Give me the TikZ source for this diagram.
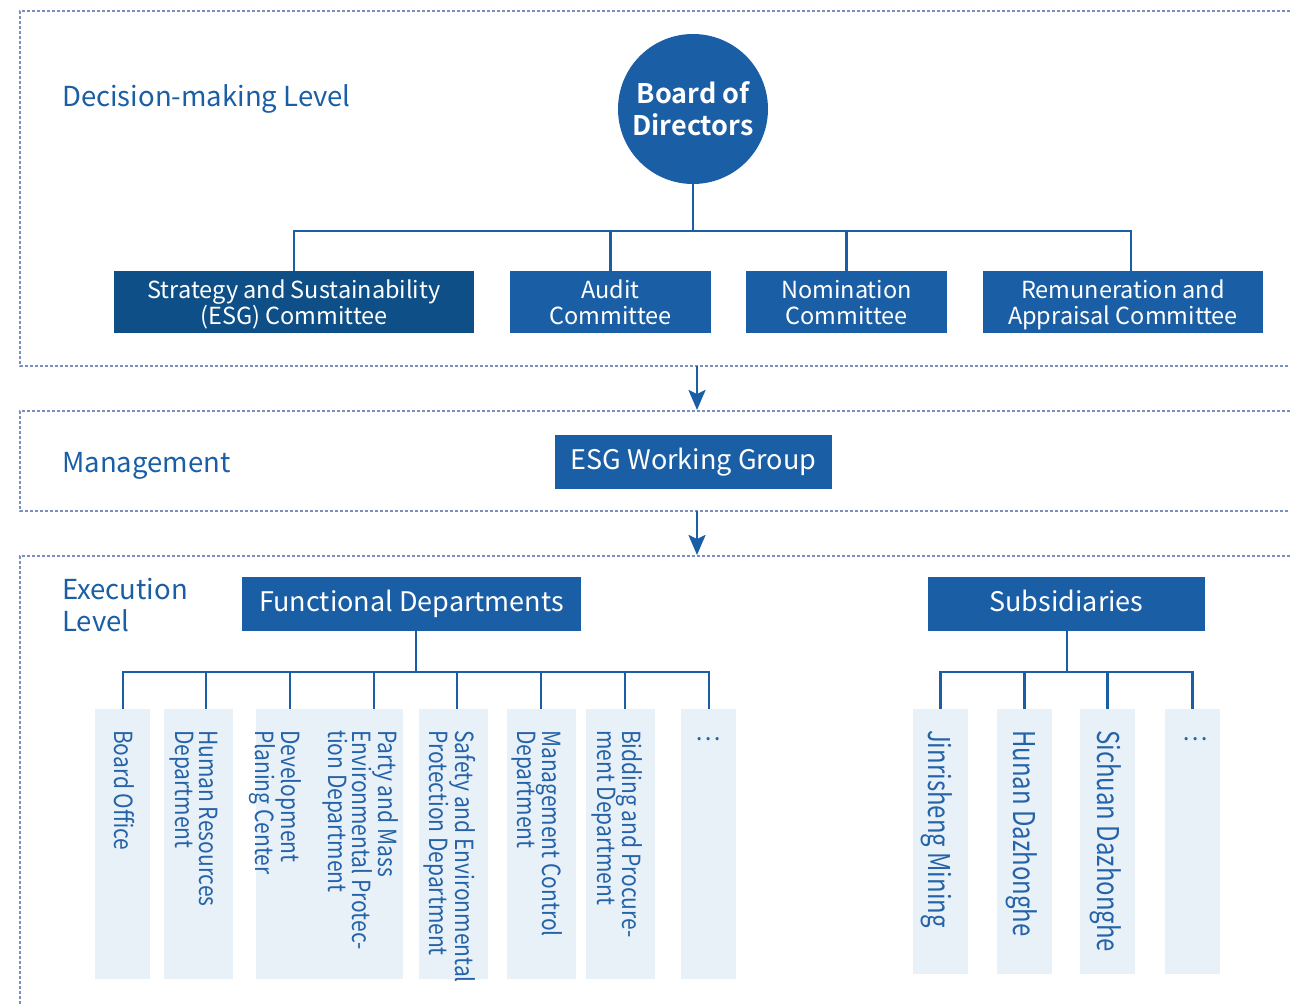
\documentclass[tikz,border=0pt]{standalone}
\usepackage{fontspec}
\setmainfont{Noto Sans CJK SC}[BoldFont={Noto Sans CJK SC Bold}]
\usetikzlibrary{arrows.meta}
\definecolor{cblue}{HTML}{1A5EA5}
\definecolor{cdark}{HTML}{0D4F86}
\definecolor{clight}{HTML}{E8F0F8}
\definecolor{cframe}{HTML}{7A8FBF}
\definecolor{ctext}{HTML}{2563A8}
\tikzset{
  frame/.style={draw=cframe, line width=1.4pt, dash pattern=on 3pt off 2pt},
  lvl/.style={text=cblue, font=\fontsize{27.5}{32}\selectfont, anchor=west, align=left, inner sep=0pt},
  cbox/.style={fill=cblue, text=white, font=\fontsize{23.5}{26}\selectfont, align=center, inner sep=0pt,
               minimum height=62pt, text height=46pt, text depth=2pt},
  hbox/.style={fill=cblue, text=white, font=\fontsize{27}{32}\selectfont, inner sep=0pt, minimum height=54pt,
               text height=20pt, text depth=6pt},
  lbox/.style={fill=clight, inner sep=0pt},
  vtext/.style={text=ctext, rotate=-90, xscale=0.84, anchor=north west, align=left, inner sep=0pt, font=\fontsize{25}{24}\selectfont},
  vtextb/.style={vtext, xscale=0.95, font=\fontsize{30}{25}\selectfont},
  conn/.style={draw=cblue, line width=2.9pt},
  arr/.style={draw=cblue, line width=2.6pt, -{Stealth[length=20pt,width=17pt,inset=4pt]}},
}
\begin{document}
\begin{tikzpicture}[x=1pt,y=-1pt]
\useasboundingbox (0,0) rectangle (1290,1006);
% frames
\draw[frame] (1295,11) -- (20,11) -- (20,366) -- (1295,366);
\draw[frame] (1295,411) -- (20,411) -- (20,511) -- (1295,511);
\draw[frame] (1295,556) -- (20,556) -- (20,1010);

% level labels
\node[lvl] (l1) at (62,99) {Decision-making Level};
\node[lvl] (l2) at (62,466) {Management};
\node[lvl] (l3) at (62,605) {Execution\\Level};

% board
\node[circle, fill=cblue, minimum size=150pt, inner sep=0pt, text=white, align=center,
      font=\bfseries\fontsize{27}{32}\selectfont] (board) at (693,109) {Board of\\Directors};

% committees
\node[cbox, fill=cdark, minimum width=360pt] (esgc) at (294,302) {Strategy and Sustainability\\(ESG) Committee};
\node[cbox, minimum width=201pt] (audit) at (610.5,302) {Audit\\Committee};
\node[cbox, minimum width=201pt] (nom) at (846.5,302) {Nomination\\Committee};
\node[cbox, minimum width=280pt] (rem) at (1123,302) {Remuneration and\\Appraisal Committee};

\coordinate (bus1) at (693,231);
\draw[conn] (board.south) -- (bus1);
\draw[conn] (bus1) -| (esgc.north);
\draw[conn] (bus1) -| (audit.north);
\draw[conn] (bus1) -| (nom.north);
\draw[conn] (bus1) -| ([xshift=8pt]rem.north);

% arrows
\coordinate (a1s) at (697,366);
\coordinate (a1e) at (697,410);
\coordinate (a2s) at (697,511);
\coordinate (a2e) at (697,555);
\draw[arr] (a1s) -- (a1e);
\draw[arr] (a2s) -- (a2e);

% ESG WG
\node[hbox, minimum width=277pt] (wg) at (693.5,462) {ESG Working Group};

% execution
\node[hbox, minimum width=339pt] (fd) at (411.5,604) {Functional Departments};
\node[hbox, minimum width=277pt] (sub) at (1066.5,604) {Subsidiaries};

% functional department boxes
\node[lbox, minimum width=55pt, minimum height=270pt] (f1) at (122.5,844) {};
\node[lbox, minimum width=69pt, minimum height=270pt] (f2) at (198.5,844) {};
\node[lbox, minimum width=74pt, minimum height=270pt] (f3) at (293,844) {};
\node[lbox, minimum width=73pt, minimum height=270pt] (f4) at (366.5,844) {};
\node[lbox, minimum width=69pt, minimum height=270pt] (f5) at (453.5,844) {};
\node[lbox, minimum width=69pt, minimum height=270pt] (f6) at (541.5,844) {};
\node[lbox, minimum width=69pt, minimum height=270pt] (f7) at (620.5,844) {};
\node[lbox, minimum width=55pt, minimum height=270pt] (f8) at (708.5,844) {};

\coordinate (bus2) at (416,672);
\draw[conn] (fd.south -| bus2) -- (bus2);
\draw[conn] (bus2) -| ([xshift=0.5pt]f1.north);
\draw[conn] (bus2) -| ([xshift=7.5pt]f2.north);
\draw[conn] (bus2) -| ([xshift=-3pt]f3.north);
\draw[conn] (bus2) -| ([xshift=7.5pt]f4.north);
\draw[conn] (bus2) -| ([xshift=3.5pt]f5.north);
\draw[conn] (bus2) -| ([xshift=-0.5pt]f6.north);
\draw[conn] (bus2) -| ([xshift=4.5pt]f7.north);
\draw[conn] (bus2) -| ([xshift=0.5pt]f8.north);

\node[vtext] (t1) at (135,730) {Board Office};
\node[vtext] (t2) at (218,730) {Human Resources\\Department};
\node[vtext] (t3) at (302,730) {Development\\Planing Center};
\node[vtext] (t4) at (399,730) {Party and Mass\\Environmental Protec-\\tion Department};
\node[vtext] (t5) at (476,730) {Safety and Environmental\\Protection Department};
\node[vtext] (t6) at (563,730) {Management Control\\Department};
\node[vtext] (t7) at (643,730) {Bidding and Procure-\\ment Department};
\node[text=ctext, font=\fontsize{24}{24}\selectfont, anchor=base, inner sep=0pt] (t8) at (708,740) {\ldots};

% subsidiaries
\node[lbox, minimum width=55pt, minimum height=265pt] (s1) at (940.5,841.5) {};
\node[lbox, minimum width=55pt, minimum height=265pt] (s2) at (1024.5,841.5) {};
\node[lbox, minimum width=55pt, minimum height=265pt] (s3) at (1107.5,841.5) {};
\node[lbox, minimum width=55pt, minimum height=265pt] (s4) at (1192.5,841.5) {};

\coordinate (bus3) at (1067,672);
\draw[conn] (sub.south -| bus3) -- (bus3);
\draw[conn] (bus3) -| (s1.north);
\draw[conn] (bus3) -| (s2.north);
\draw[conn] (bus3) -| (s3.north);
\draw[conn] (bus3) -| (s4.north);

\node[vtextb] (u1) at (953,730) {Jinrisheng Mining};
\node[vtextb] (u2) at (1038,730) {Hunan Dazhonghe};
\node[vtextb] (u3) at (1122,730) {Sichuan Dazhonghe};
\node[text=ctext, font=\fontsize{24}{24}\selectfont, anchor=base, inner sep=0pt] (u4) at (1195,740) {\ldots};
\end{tikzpicture}
\end{document}
